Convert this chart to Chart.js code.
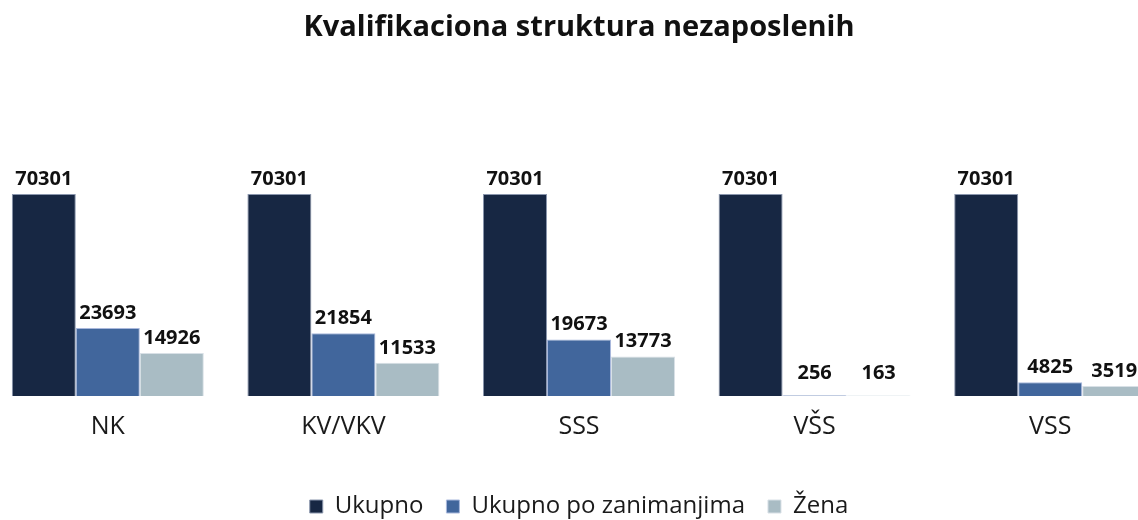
<!DOCTYPE html>
<html>
<head>
<meta charset="utf-8">
<script src="https://cdn.jsdelivr.net/npm/chart.js@4.4.1/dist/chart.umd.min.js"></script>
<style>
  html, body { margin:0; padding:0; background:#fff; overflow:hidden; width:1138px; height:520px; }
  #wrap { position:absolute; left:-10px; top:0; width:1178px; height:520px; }
</style>
</head>
<body>
<div id="wrap"><canvas id="c"></canvas></div>
<script>
const categories = ["NK", "KV/VKV", "SSS", "VŠS", "VSS"];
const ukupno = [70301, 70301, 70301, 70301, 70301];
const ukupnoPoZanimanjima = [23693, 21854, 19673, 256, 4825];
const zena = [14926, 11533, 13773, 163, 3519];
const seriesNames = ["Ukupno", "Ukupno po zanimanjima", "Žena"];
const titleText = "Kvalifikaciona struktura nezaposlenih";

const FONT = "'Open Sans', 'Noto Sans', sans-serif";

const valueLabels = {
  id: 'valueLabels',
  afterDatasetsDraw(chart) {
    const ctx = chart.ctx;
    ctx.save();
    ctx.font = "bold 20px " + FONT;
    ctx.fillStyle = "#111111";
    ctx.textAlign = "center";
    ctx.textBaseline = "alphabetic";
    chart.data.datasets.forEach((ds, di) => {
      const meta = chart.getDatasetMeta(di);
      meta.data.forEach((bar, i) => {
        const y = Math.min(bar.y, bar.base - 8) - 9;
        ctx.fillText(String(ds.data[i]), bar.x, y);
      });
    });
    ctx.restore();
  }
};

new Chart(document.getElementById('c'), {
  type: 'bar',
  data: {
    labels: categories,
    datasets: [
      { label: seriesNames[0], data: ukupno, backgroundColor: '#172743', borderColor: '#8a96ad', borderWidth: 1 },
      { label: seriesNames[1], data: ukupnoPoZanimanjima, backgroundColor: '#41669c', borderColor: '#a9b8dc', borderWidth: 1 },
      { label: seriesNames[2], data: zena, backgroundColor: '#a9bcc4', borderColor: '#d8e0e6', borderWidth: 1 }
    ]
  },
  options: {
    responsive: true,
    maintainAspectRatio: false,
    animation: false,
    layout: { padding: { top: 0, bottom: -8.5, left: 0, right: 0 } },
    datasets: { bar: { categoryPercentage: 0.815, barPercentage: 1.0 } },
    scales: {
      x: {
        grid: { display: false, drawTicks: false },
        border: { display: false },
        ticks: { padding: 15.5, color: '#1a1a1a', font: { family: FONT, size: 25 } },
        afterFit(scale) { scale.height = 75.5; }
      },
      y: { display: false, min: 0, max: 80000 }
    },
    plugins: {
      title: {
        display: true,
        text: titleText,
        color: '#111111',
        font: { family: FONT, size: 29, weight: 'bold' },
        padding: { top: 10, bottom: 121.2 }
      },
      legend: {
        position: 'bottom',
        labels: {
          boxWidth: 13, boxHeight: 13, padding: 23,
          color: '#1a1a1a',
          font: { family: FONT, size: 24 }
        }
      },
      tooltip: { enabled: false }
    }
  },
  plugins: [valueLabels]
});
</script>
</body>
</html>
